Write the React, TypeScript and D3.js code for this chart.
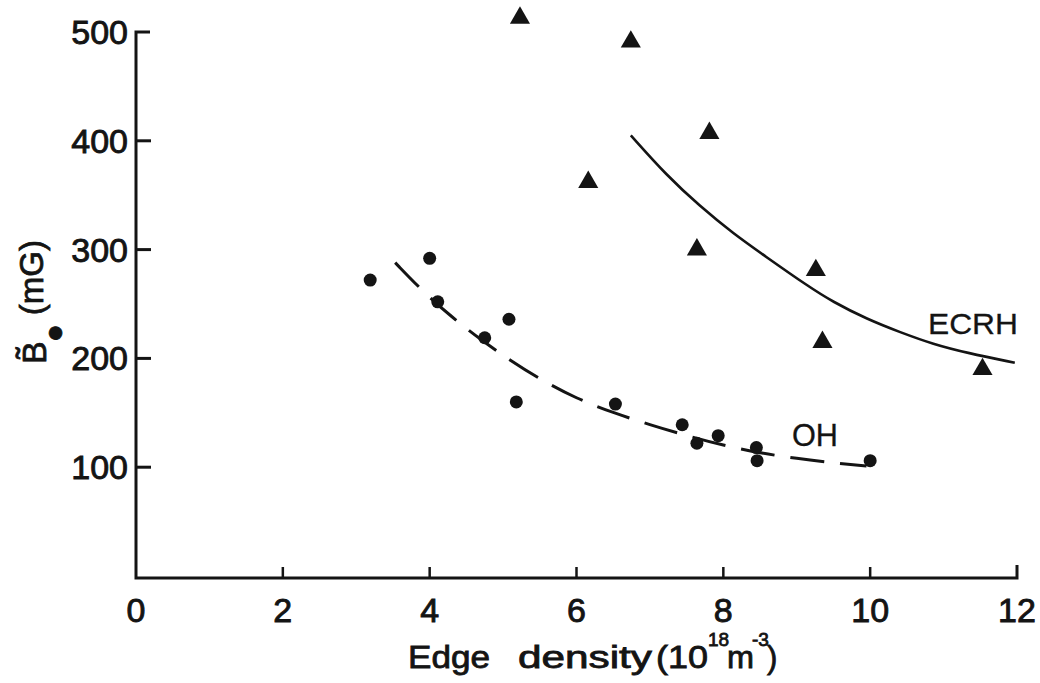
import React, { useRef, useEffect } from "react";
import * as d3 from "d3";

// ECRH points (triangles): edge density, B amplitude in mG
const ecrhX = [5.23, 6.74, 6.16, 7.81, 7.64, 9.26, 9.35, 11.53];
const ecrhY = [513, 491, 362, 407, 300, 281, 215, 190];

// OH points (dots)
const ohX = [3.19, 4.0, 4.11, 4.75, 5.08, 5.18, 6.53, 7.44, 7.64, 7.93, 8.45, 8.46, 10.0];
const ohY = [272, 292, 252, 219, 236, 160, 158, 139, 122, 129, 118, 106, 106];

// hand drawn trend curves
const ecrhCurveX = [6.74, 7.23, 7.68, 8.13, 8.59, 9.14, 9.49, 9.96, 10.41, 10.86, 11.32, 11.97];
const ecrhCurveY = [405, 368, 340, 315, 293, 267, 252, 236, 224, 213, 205, 196];
const ohCurveX = [3.53, 3.9, 4.3, 4.7, 5.1, 5.5, 6.0, 6.5, 7.0, 7.5, 8.0, 8.5, 9.0, 9.5, 9.95];
const ohCurveY = [288, 262, 238, 217, 198, 181, 163, 150, 139, 129, 120, 113, 108, 104, 101];

const xTicks = [0, 2, 4, 6, 8, 10, 12];
const yTicks = [100, 200, 300, 400, 500];

const ink = "#141414";
const font = "'Liberation Sans', Arial, sans-serif";

function App() {
  const svgRef = useRef(null);

  useEffect(() => {
    const svg = d3.select(svgRef.current);
    svg.selectAll("*").remove();

    const x = d3.scaleLinear().domain([0, 12]).range([136, 1017]);
    const y = d3.scaleLinear().domain([0, 500]).range([576, 32]);
    const x0 = x(0),
      yBase = 578;

    svg.append("rect").attr("width", 1040).attr("height", 683).attr("fill", "#fff");

    // axes
    svg
      .append("path")
      .attr("d", `M${x0 + 14},${y(500)}H${x0}V${yBase}H${x(12)}V${yBase - 13}`)
      .attr("fill", "none")
      .attr("stroke", ink)
      .attr("stroke-width", 3);

    svg
      .selectAll(".ytick")
      .data(yTicks.slice(0, 4))
      .join("line")
      .attr("x1", x0)
      .attr("x2", x0 + 15)
      .attr("y1", (d) => y(d))
      .attr("y2", (d) => y(d))
      .attr("stroke", ink)
      .attr("stroke-width", 3);

    svg
      .selectAll(".xtick")
      .data(xTicks.slice(1, 6))
      .join("line")
      .attr("x1", (d) => x(d))
      .attr("x2", (d) => x(d))
      .attr("y1", yBase)
      .attr("y2", yBase - 11)
      .attr("stroke", ink)
      .attr("stroke-width", 2.5);

    const labelStyle = (sel) =>
      sel
        .attr("font-family", font)
        .attr("font-size", 34)
        .attr("fill", ink)
        .attr("stroke", ink)
        .attr("stroke-width", 0.9);

    svg
      .selectAll(".ylab")
      .data(yTicks)
      .join("text")
      .attr("x", x0 - 8)
      .attr("y", (d) => y(d) + 12)
      .attr("text-anchor", "end")
      .text((d) => d)
      .call(labelStyle);

    svg
      .selectAll(".xlab")
      .data(xTicks)
      .join("text")
      .attr("x", (d) => x(d))
      .attr("y", 622)
      .attr("text-anchor", "middle")
      .text((d) => d)
      .call(labelStyle);

    // x title, pieces placed like the hand lettering
    const xt = svg
      .append("text")
      .call(labelStyle)
      .attr("font-size", 31)
      .attr("stroke-width", 0.8);
    const piece = (t, px, py, len, size = 31) => {
      const s = xt.append("tspan").attr("x", px).attr("y", py).attr("font-size", size).text(t);
      if (len) s.attr("textLength", len).attr("lengthAdjust", "spacingAndGlyphs");
    };
    piece("Edge", 408, 668, 82);
    piece("density", 518, 668, 134);
    piece("(10", 656, 668, 52);
    piece("18", 708, 646, 0, 19);
    piece("m", 727, 668, 27);
    piece("-3", 752, 646, 0, 19);
    piece(")", 767, 668, 0);

    // y title
    const yt = svg
      .append("text")
      .attr("transform", "translate(46,364) rotate(-90)")
      .call(labelStyle)
      .attr("font-size", 34)
      .attr("stroke-width", 0.8);
    yt.append("tspan").text("B\u0303");
    yt.append("tspan").attr("font-size", 30).attr("dx", -1).attr("dy", 18).text("\u25CF");
    yt.append("tspan").attr("font-size", 33).attr("dx", 9).attr("dy", -21).text("(mG)");

    // curves
    const line = d3
      .line()
      .x((d) => x(d[0]))
      .y((d) => y(d[1]))
      .curve(d3.curveBasis);

    svg
      .append("path")
      .datum(ecrhCurveX.map((v, i) => [v, ecrhCurveY[i]]))
      .attr("d", line)
      .attr("fill", "none")
      .attr("stroke", ink)
      .attr("stroke-width", 2.6);

    svg
      .append("path")
      .datum(ohCurveX.map((v, i) => [v, ohCurveY[i]]))
      .attr("d", line)
      .attr("fill", "none")
      .attr("stroke", ink)
      .attr("stroke-width", 3)
      .attr("stroke-dasharray", "34 16");

    // markers
    svg
      .selectAll(".oh")
      .data(ohX.map((v, i) => [v, ohY[i]]))
      .join("circle")
      .attr("cx", (d) => x(d[0]))
      .attr("cy", (d) => y(d[1]))
      .attr("r", 6.5)
      .attr("fill", ink);

    const tri = d3.symbol(d3.symbolTriangle, 175);
    svg
      .selectAll(".ecrh")
      .data(ecrhX.map((v, i) => [v, ecrhY[i]]))
      .join("path")
      .attr("transform", (d) => `translate(${x(d[0])},${y(d[1])})`)
      .attr("d", tri)
      .attr("fill", ink);

    // series labels
    svg
      .append("text")
      .attr("x", 928)
      .attr("y", 334)
      .text("ECRH")
      .call(labelStyle)
      .attr("font-size", 30)
      .attr("textLength", 90)
      .attr("lengthAdjust", "spacingAndGlyphs")
      .attr("stroke-width", 0.3);
    svg
      .append("text")
      .attr("x", 792)
      .attr("y", 446)
      .text("OH")
      .call(labelStyle)
      .attr("font-size", 31)
      .attr("textLength", 46)
      .attr("lengthAdjust", "spacingAndGlyphs")
      .attr("stroke-width", 0.3);
  }, []);

  return (
    <svg
      ref={svgRef}
      width={1040}
      height={683}
      style={{ position: "absolute", left: 0, top: 0 }}
    />
  );
}

export default App;
